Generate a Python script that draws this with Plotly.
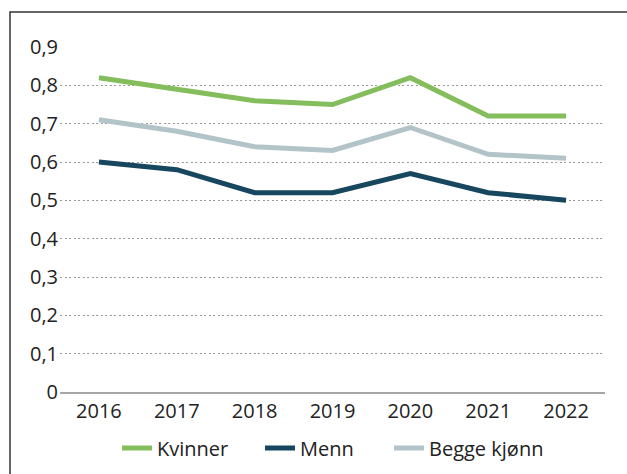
import plotly.graph_objects as go

years = ["2016", "2017", "2018", "2019", "2020", "2021", "2022"]
kvinner = [0.82, 0.79, 0.76, 0.75, 0.82, 0.72, 0.72]
menn = [0.60, 0.58, 0.52, 0.52, 0.57, 0.52, 0.50]
begge = [0.71, 0.68, 0.64, 0.63, 0.69, 0.62, 0.61]
y_tick_vals = [0, 0.1, 0.2, 0.3, 0.4, 0.5, 0.6, 0.7, 0.8, 0.9]
y_tick_text = ["0", "0,1", "0,2", "0,3", "0,4", "0,5", "0,6", "0,7", "0,8", "0,9"]

FONT = "Open Sans"
W, H = 627, 474
L, R, T, B = 60, 22, 47, 82

fig = go.Figure()
fig.add_trace(go.Scatter(x=years, y=kvinner, name="Kvinner", mode="lines",
                         line=dict(color="#84BD5B", width=5), legend="legend"))
fig.add_trace(go.Scatter(x=years, y=menn, name="Menn", mode="lines",
                         line=dict(color="#17465F", width=5), legend="legend2"))
fig.add_trace(go.Scatter(x=years, y=begge, name="Begge kjønn", mode="lines",
                         line=dict(color="#B3C4C8", width=5), legend="legend3"))

pw, ph = W - L - R, H - T - B
fig.add_shape(type="rect", xref="paper", yref="paper",
              x0=(10 - L) / pw, x1=(W + 5 - L) / pw,
              y0=(H - B - (H + 5)) / ph, y1=(H - B - 12) / ph,
              line=dict(color="#333333", width=1.5), fillcolor="rgba(0,0,0,0)",
              layer="below")

def leg(xpx):
    return dict(orientation="h", xref="container", yref="container",
                x=xpx / W, xanchor="left", y=1 - 448 / H, yanchor="middle",
                font=dict(size=20, family=FONT, color="#222222"),
                itemwidth=30, bgcolor="rgba(0,0,0,0)")

fig.update_layout(
    width=W, height=H,
    margin=dict(l=L, r=R, t=T, b=B, autoexpand=False),
    paper_bgcolor="white", plot_bgcolor="white",
    font=dict(family=FONT, size=20, color="#222222"),
    showlegend=True,
    legend=leg(117), legend2=leg(260), legend3=leg(389),
    xaxis=dict(type="category", range=[-0.5, 6.5], showgrid=False,
               showline=True, linecolor="#A6A6A6", linewidth=2,
               ticks="", tickfont=dict(size=20), fixedrange=True, automargin=False),
    yaxis=dict(range=[0, 0.9], tickvals=y_tick_vals, ticktext=y_tick_text,
               showgrid=True, gridcolor="#999999", gridwidth=1, griddash="2px,2.5px",
               zeroline=False, showline=False, ticks="", tickfont=dict(size=20),
               ticklabelstandoff=1, automargin=False),
)

fig.write_html("out.html", config={"displayModeBar": False},
               post_script="document.body.style.margin='0';document.body.style.overflow='hidden';")
